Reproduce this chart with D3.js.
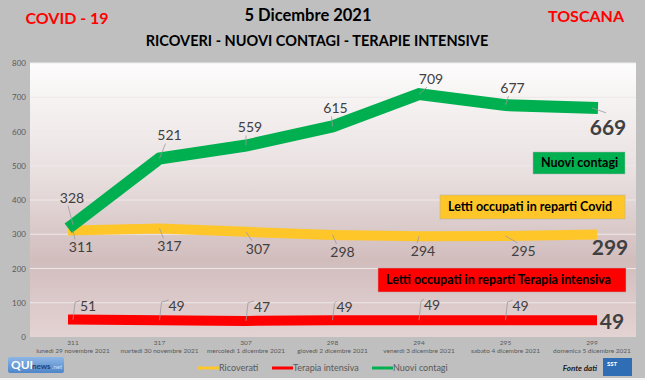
<!DOCTYPE html>
<html><head><meta charset="utf-8">
<script src="https://cdn.jsdelivr.net/npm/d3@7"></script>
<style>html,body{margin:0;padding:0;background:#bfbfbf;}svg{display:block;font-family:Lato,"Open Sans",sans-serif;}</style>
</head><body>
<svg id="chart" width="645" height="380"></svg>
<script>
const dates = ["lunedì 29 novembre 2021","martedì 30 novembre 2021","mercoledì 1 dicembre 2021","giovedì 2 dicembre 2021","venerdì 3 dicembre 2021","sabato 4 dicembre 2021","domenica 5 dicembre 2021"];
const ricoverati = [311,317,307,298,294,295,299];
const terapia = [51,49,47,49,49,49,49];
const contagi = [328,521,559,615,709,677,669];
const yTicks = [0,100,200,300,400,500,600,700,800];
const seriesNames = ["Ricoverati","Terapia intensiva","Nuovi contagi"];

// label offsets (layout)
const offG = [[-1,-27],[10,-23],[4,-18],[3,-18],[12,-15],[7,-17],[16,20]];
const offY = [[8,17],[10,18],[12,17],[10,17],[4,15],[18,15],[18,13]];
const offR = [[15,-13],[17,-14],[16,-14],[12,-13],[13,-15],[15,-14],[20,1]];

const svg = d3.select("#chart");
const W=645,H=380;
svg.append("rect").attr("width",W).attr("height",H).attr("fill","#bfbfbf");

const plot = {x0:30,x1:636,y0:63,y1:337};
const defs = svg.append("defs");
const gr = defs.append("linearGradient").attr("id","bg").attr("x1",0).attr("y1",0).attr("x2",0).attr("y2",1);
[["0%","#fdfcfc"],["40%","#e9e0e0"],["72%","#d2bdbd"],["100%","#e4d3d3"]].forEach(s=>gr.append("stop").attr("offset",s[0]).attr("stop-color",s[1]));
svg.append("rect").attr("x",plot.x0).attr("y",plot.y0).attr("width",plot.x1-plot.x0).attr("height",plot.y1-plot.y0).attr("fill","url(#bg)");

const x = d3.scalePoint().domain(d3.range(dates.length)).range([73,592]);
const y = d3.scaleLinear().domain([0,800]).range([337,63]);

// gridlines
svg.append("g").selectAll("line").data(yTicks.slice(1)).join("line")
 .attr("x1",plot.x0).attr("x2",plot.x1).attr("y1",d=>y(d)).attr("y2",d=>y(d))
 .attr("stroke","#eee9e9").attr("stroke-width",1);

// y axis
const ya = svg.append("g").attr("transform","translate(26,0)")
 .call(d3.axisLeft(y).tickValues(yTicks).tickSize(0).tickPadding(0));
ya.select(".domain").remove();
ya.selectAll("text").attr("fill","#595959").attr("font-size",8).attr("font-family","Lato,sans-serif");

// x axis two-line labels
const xa = svg.append("g");
xa.selectAll("text.v").data(ricoverati).join("text").attr("class","v")
 .attr("x",(d,i)=>x(i)).attr("y",345).attr("text-anchor","middle").attr("font-size",6.5).attr("fill","#595959").text(d=>d);
xa.selectAll("text.d").data(dates).join("text").attr("class","d")
 .attr("x",(d,i)=>x(i)).attr("y",353).attr("text-anchor","middle").attr("font-size",6.5).attr("fill","#595959").text(d=>d);

const line = d3.line().x((d,i)=>x(i)).y(d=>y(d));
function drawSeries(vals,color,w){
  svg.append("path").datum(vals).attr("d",line).attr("fill","none").attr("stroke",color)
   .attr("stroke-width",w).attr("stroke-linecap","square").attr("stroke-linejoin","miter");
}
drawSeries(ricoverati,"#ffc629",10);
drawSeries(terapia,"#ff0000",10);
drawSeries(contagi,"#00b050",12);

function labels(vals,offs,mode){
  const g = svg.append("g");
  vals.forEach((v,i)=>{
    const px=x(i), py=y(v);
    const last = i===vals.length-1;
    const lx = px+offs[i][0], ly = py+offs[i][1];
    const fs = last?21:14;
    let path;
    if(!last){
      if(mode==="above") path = `M${px},${py} L${lx-4},${ly+8}`;
      else if(mode==="below") path = `M${px},${py} L${lx-6},${ly-8}`;
      else path = `M${px},${py} L${px+2},${ly-4} L${lx-8},${ly-6}`;
    } else {
      if(mode==="above") path = `M${px},${py} L${px+14},${py+5}`;
      else path = null;
    }
    if(path) g.append("path").attr("d",path).attr("fill","none").attr("stroke","#9a9a9a").attr("stroke-width",0.8);
    g.append("text").attr("x",lx).attr("y",ly).attr("dy","0.35em").attr("text-anchor","middle")
     .attr("font-size",fs).attr("font-weight",last?"bold":"normal").attr("fill","#404040").text(v);
  });
}
labels(contagi,offG,"above");
labels(ricoverati,offY,"below");
labels(terapia,offR,"red");

// annotation boxes
function box(x0,y0,x1,y1,fill,txt,tx){
  svg.append("rect").attr("x",x0).attr("y",y0).attr("width",x1-x0).attr("height",y1-y0).attr("fill",fill).attr("stroke","#b0b0b0").attr("stroke-width",0.5);
  svg.append("text").attr("x",tx).attr("y",(y0+y1)/2).attr("dy","0.35em").attr("text-anchor","start")
   .attr("font-size",12.5).attr("font-weight","bold").attr("fill","#000").text(txt);
}
box(533,152,625,174,"#00b050","Nuovi contagi",541);
box(440,195,625,219,"#ffc629","Letti occupati in reparti Covid",448);
box(378,268,626,292,"#ff0000","Letti occupati in reparti Terapia intensiva",386);

// titles
svg.append("text").attr("x",67).attr("y",24).attr("text-anchor","middle").attr("font-size",16).attr("font-weight","bold").attr("fill","#ff0000").text("COVID - 19");
svg.append("text").attr("x",586).attr("y",22).attr("text-anchor","middle").attr("font-size",16).attr("font-weight","bold").attr("fill","#ff0000").text("TOSCANA");
svg.append("text").attr("x",308).attr("y",21).attr("text-anchor","middle").attr("font-size",16.5).attr("font-weight","bold").attr("fill","#000").text("5 Dicembre 2021");
svg.append("text").attr("x",317).attr("y",46).attr("text-anchor","middle").attr("font-size",14.5).attr("font-weight","bold").attr("fill","#000").text("RICOVERI - NUOVI CONTAGI - TERAPIE INTENSIVE");

// legend
const colors = ["#ffc629","#ff0000","#00b050"];
const legX = [198,272,372];
seriesNames.forEach((n,i)=>{
  svg.append("line").attr("x1",legX[i]).attr("x2",legX[i]+21).attr("y1",368).attr("y2",368).attr("stroke",colors[i]).attr("stroke-width",3);
  svg.append("text").attr("x",legX[i]+21).attr("y",368).attr("dy","0.35em").attr("font-size",9).attr("fill","#595959").text(n);
});

// logos / source
const lgr = defs.append("linearGradient").attr("id","lg").attr("x1",0).attr("y1",0).attr("x2",0).attr("y2",1);
[["0%","#8db6e6"],["100%","#4f86c9"]].forEach(s=>lgr.append("stop").attr("offset",s[0]).attr("stop-color",s[1]));
const lg = svg.append("g");
lg.append("rect").attr("x",8).attr("y",357).attr("width",56).attr("height",16).attr("rx",2).attr("fill","url(#lg)");
lg.append("text").attr("x",11).attr("y",369).attr("font-size",12).attr("font-weight","bold").attr("fill","#fff").text("QUI");
lg.append("text").attr("x",32).attr("y",369).attr("font-size",8).attr("font-weight","bold").attr("fill","#1f3f73").text("news");
lg.append("text").attr("x",52).attr("y",369).attr("font-size",6).attr("fill","#cfe0f5").text(".net");
svg.append("text").attr("x",597).attr("y",368).attr("dy","0.35em").attr("text-anchor","end").attr("font-size",8).attr("font-style","italic").attr("font-weight","bold").attr("fill","#222").text("Fonte dati");
svg.append("rect").attr("x",603).attr("y",358).attr("width",29).attr("height",18).attr("fill","#2f6db5");
svg.append("text").attr("x",607).attr("y",366).attr("font-size",6).attr("font-weight","bold").attr("fill","#fff").text("SST");
svg.append("rect").attr("x",0).attr("y",378).attr("width",W).attr("height",2).attr("fill","#f4f4f4");
</script>
</body></html>
